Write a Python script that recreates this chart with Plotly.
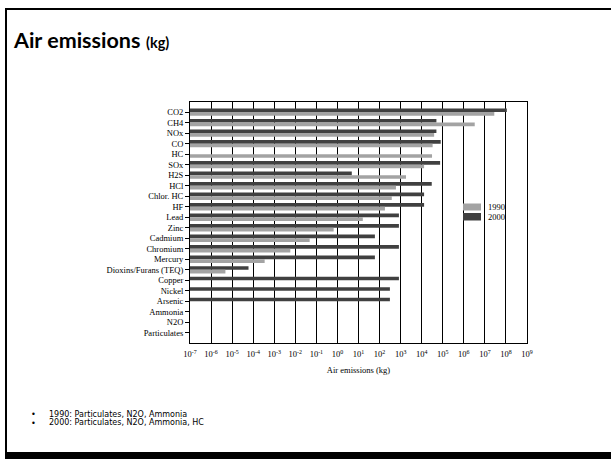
import plotly.graph_objects as go

# Pollutant categories, top to bottom
pollutants = ["CO2", "CH4", "NOx", "CO", "HC", "SOx", "H2S", "HCl", "Chlor. HC", "HF",
              "Lead", "Zinc", "Cadmium", "Chromium", "Mercury", "Dioxins/Furans (TEQ)",
              "Copper", "Nickel", "Arsenic", "Ammonia", "N2O", "Particulates"]

# Emissions in kg (None = not reported)
emis_2000 = [1.1e8, 5.0e4, 5.0e4, 8.0e4, None, 7.5e4, 4.8, 3.0e4, 1.3e4, 1.3e4,
             8.3e2, 8.3e2, 60, 8.3e2, 60, 6.0e-5,
             8.3e2, 3.1e2, 3.1e2, None, None, None]
emis_1990 = [2.8e7, 3.3e6, 3.9e4, 3.3e4, 3.1e4, 1.3e4, 1.8e3, 6.0e2, 3.8e2, 1.8e2,
             16, 0.66, 0.048, 0.0058, 3.5e-4, 4.8e-6,
             None, None, None, None, None, None]

decades = list(range(-7, 10))
tick_vals = [10.0 ** d for d in decades]
tick_text = ["10<sup>%d</sup>" % d for d in decades]

notes = ["1990: Particulates, N2O, Ammonia",
         "2000: Particulates, N2O, Ammonia, HC"]

COL_1990 = "#a3a3a3"
COL_2000 = "#404040"
SERIF = "Liberation Serif"
TITLE_FONT = "Lato"
NOTE_FONT = "DejaVu Sans"

W, H = 611, 459
L, R, T, B = 190, 84, 102, 116
PW, PH = W - L - R, H - T - B


def px(x):
    return (x - L) / PW


def py(y):
    return (H - B - y) / PH


fig = go.Figure()
fig.add_trace(go.Bar(y=pollutants, x=emis_2000, orientation="h", name="2000",
                     marker=dict(color=COL_2000, line=dict(width=0)), showlegend=False))
fig.add_trace(go.Bar(y=pollutants, x=emis_1990, orientation="h", name="1990",
                     marker=dict(color=COL_1990, line=dict(width=0)), showlegend=False))

shapes = []
# slide frame
shapes.append(dict(type="rect", xref="paper", yref="paper", x0=px(5), x1=px(611),
                   y0=py(8), y1=py(10), fillcolor="black", line=dict(width=0), layer="above"))
shapes.append(dict(type="rect", xref="paper", yref="paper", x0=px(5), x1=px(7),
                   y0=py(8), y1=py(459), fillcolor="black", line=dict(width=0), layer="above"))
shapes.append(dict(type="rect", xref="paper", yref="paper", x0=px(5), x1=px(611),
                   y0=py(452), y1=py(459), fillcolor="black", line=dict(width=0), layer="above"))
# legend swatches
shapes.append(dict(type="rect", xref="paper", yref="paper", x0=px(463), x1=px(481),
                   y0=py(203.5), y1=py(210.5), fillcolor=COL_1990, line=dict(width=0), layer="above"))
shapes.append(dict(type="rect", xref="paper", yref="paper", x0=px(463), x1=px(481),
                   y0=py(213), y1=py(220.5), fillcolor=COL_2000, line=dict(width=0), layer="above"))

annotations = [
    dict(text="1990", xref="paper", yref="paper", x=px(486), y=py(207), xanchor="left",
         yanchor="middle", showarrow=False, font=dict(family=SERIF, size=8.5, color="black")),
    dict(text="2000", xref="paper", yref="paper", x=px(486), y=py(217), xanchor="left",
         yanchor="middle", showarrow=False, font=dict(family=SERIF, size=8.5, color="black")),
    dict(text="<b>Air emissions</b> <span style='font-size:14.5px'><b>(kg)</b></span>",
         xref="paper", yref="paper", x=px(11), y=py(40), xanchor="left", yanchor="middle",
         showarrow=False, font=dict(family=TITLE_FONT, size=21.5, color="black")),
]
for i, line in enumerate(notes):
    yy = py(414.3 + 8.6 * i)
    annotations.append(dict(text="•", xref="paper", yref="paper", x=px(29), y=yy,
                            xanchor="left", yanchor="middle", showarrow=False,
                            font=dict(family=NOTE_FONT, size=8.2, color="black")))
    annotations.append(dict(text=line, xref="paper", yref="paper", x=px(47), y=yy,
                            xanchor="left", yanchor="middle", showarrow=False,
                            font=dict(family=NOTE_FONT, size=8.0, color="black")))

fig.update_layout(
    width=W, height=H,
    margin=dict(l=L, r=R, t=T, b=B, pad=0),
    paper_bgcolor="white", plot_bgcolor="white",
    font=dict(color="#000000"),
    barmode="group", bargap=0.3, bargroupgap=0,
    shapes=shapes, annotations=annotations,
    xaxis=dict(type="log", range=[-7, 9], tickvals=tick_vals, ticktext=tick_text,
               showgrid=True, gridcolor="black", gridwidth=1,
               showline=True, linecolor="black", linewidth=1, mirror=True,
               ticks="", zeroline=False, ticklabelstandoff=3,
               tickfont=dict(family=SERIF, size=8.5, color="#000000"),
               title=dict(text="Air emissions (kg)", standoff=8,
                          font=dict(family=SERIF, size=8.5, color="#000000"))),
    yaxis=dict(type="category", categoryorder="array", categoryarray=pollutants,
               range=[21.96, -0.96], showgrid=False,
               showline=True, linecolor="black", linewidth=1, mirror=True,
               ticks="outside", ticklen=4, tickcolor="black",
               tickfont=dict(family=SERIF, size=8.5, color="#000000")),
)

fig.write_html("out.html")
